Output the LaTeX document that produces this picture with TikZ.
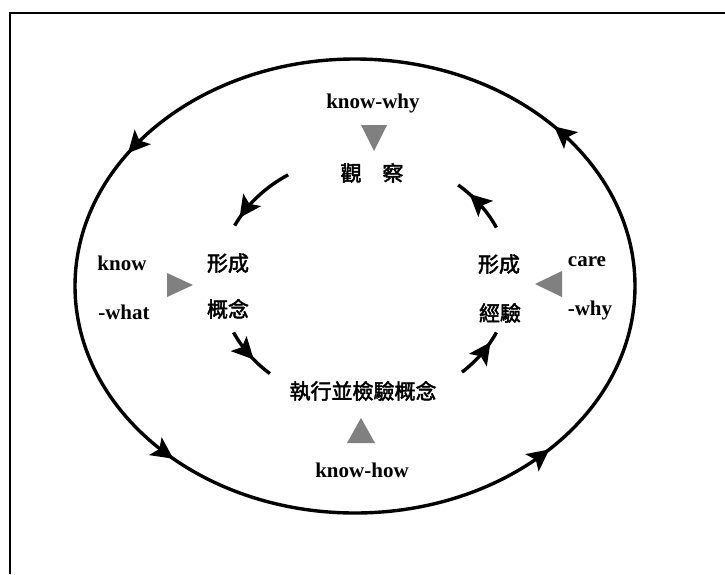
\documentclass[tikz,border=0pt]{standalone}
\usepackage{fontspec}
\setmainfont{Liberation Serif}
\newfontfamily\cjk{Noto Sans CJK TC}[FakeBold=2.2]
\usetikzlibrary{arrows.meta,calc,decorations.markings}
\definecolor{tgray}{HTML}{808080}
\begin{document}
\begin{tikzpicture}[x=1pt,y=-1pt,
  en/.style={font=\fontsize{21}{25}\selectfont\bfseries, anchor=base, inner sep=0pt},
  zh/.style={font=\cjk\fontsize{21}{25}\selectfont, anchor=base, inner sep=0pt},
  ring/.style={line width=3.4pt},
  tri/.style={fill=tgray},
  headmark/.style={postaction={decorate},decoration={markings,
     mark=at position 1 with {\fill[black] (2pt,0pt) -- (-20pt,11pt) -- (-15pt,0pt) -- (-20pt,-11pt) -- cycle;}}}
]
\useasboundingbox (0,0) rectangle (725,574);
\fill[white] (0,0) rectangle (725,574);
% frame (left and top edges)
\draw[line width=2pt] (9.5,574) -- (9.5,12.5) -- (725,12.5);

\coordinate (O) at (355,286);
\coordinate (I) at (365,280);

% outer ellipse
\draw[ring] (O) ellipse [x radius=280, y radius=227];
\foreach \a in {216.3,130.9,46.5,-44.2}{
  \path[headmark] ($(O)+(\a+14:280 and 227)$) arc[start angle=\a+14, end angle=\a, x radius=280, y radius=227];
}

% inner arcs
\draw[ring] ($(I)+(238:145 and 124)$) arc[start angle=238, end angle=206, x radius=145, y radius=124];
\path[headmark] ($(I)+(238:145 and 124)$) arc[start angle=238, end angle=211, x radius=145, y radius=124];

\draw[ring] ($(I)+(155:145 and 124)$) arc[start angle=155, end angle=131, x radius=145, y radius=124];
\path[headmark] ($(I)+(155:145 and 124)$) arc[start angle=155, end angle=141, x radius=145, y radius=124];

\draw[ring] ($(I)+(48:145 and 124)$) arc[start angle=48, end angle=25, x radius=145, y radius=124];
\path[headmark] ($(I)+(48:145 and 124)$) arc[start angle=48, end angle=31, x radius=145, y radius=124];

\draw[ring] ($(I)+(-25:145 and 124)$) arc[start angle=-25, end angle=-50, x radius=145, y radius=124];
\path[headmark] ($(I)+(-25:145 and 124)$) arc[start angle=-25, end angle=-43, x radius=145, y radius=124];

% gray triangles
\fill[tri] (361,125) -- (387,125) -- (374,151) -- cycle;
\fill[tri] (167,273) -- (167,297) -- (193,285) -- cycle;
\fill[tri] (562,271) -- (562,297) -- (535,284) -- cycle;
\fill[tri] (347,443) -- (375,443) -- (361,418) -- cycle;

% texts
\node[en] (kwhy) at (373,108) {know-why};
\node[zh] (obs) at (372,181) {觀　察};
\node[en] (kwhat1) at (122,270) {know};
\node[en] (kwhat2) at (124,319) {-what};
\node[zh] (fc1) at (228,271) {形成};
\node[zh] (gn) at (228,317) {概念};
\node[zh] (fc2) at (499,272) {形成};
\node[zh] (jy) at (500,321) {經驗};
\node[en] (care1) at (587,266) {care};
\node[en] (care2) at (590,315) {-why};
\node[zh] (exec) at (363,399) {執行並檢驗概念};
\node[en] (khow) at (362,477) {know-how};
\end{tikzpicture}
\end{document}
